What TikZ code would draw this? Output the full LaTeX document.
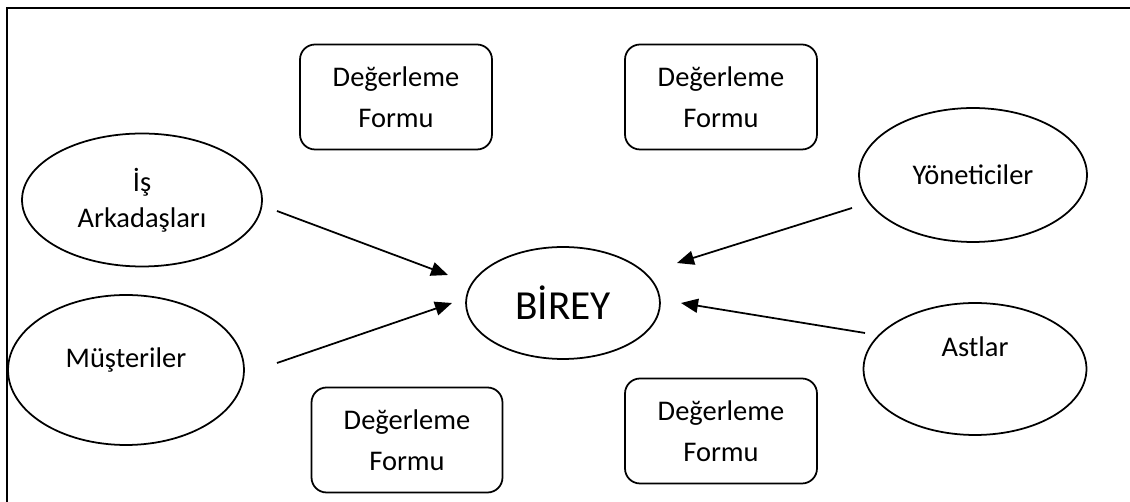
\documentclass[tikz,border=0pt]{standalone}
\usepackage{fontspec}
\setmainfont{Carlito}
\usetikzlibrary{arrows.meta,shapes.geometric}
\tikzset{
  formbox/.style={rectangle,rounded corners=0.3cm,draw,line width=1pt,
                  minimum width=3.84cm,minimum height=2.1cm,align=center,
                  inner sep=0pt,font=\fontsize{16.2}{23.2}\selectfont},
  oval/.style={ellipse,draw,line width=1pt,inner sep=0pt,align=center,
               font=\fontsize{16.2}{20.4}\selectfont},
  ovaltext/.style={font=\fontsize{16.2}{20.4}\selectfont,inner sep=0pt},
  arrow/.style={-{Triangle[length=0.34cm,width=0.28cm]},line width=1pt},
}
\begin{document}
\begin{tikzpicture}[x=0.02cm,y=-0.02cm]
  \useasboundingbox (0,0) rectangle (1130,502);
  % frame
  \draw[line width=1.2pt] (7,502) -- (7,8) -- (1130,8);

  % forms
  \node[formbox] (form1) at (396,97) {Değerleme\\Formu};
  \node[formbox] (form2) at (721,97) {Değerleme\\Formu};
  \node[formbox,minimum width=3.82cm] (form3) at (407,440) {Değerleme\\Formu};
  \node[formbox] (form4) at (721,431) {Değerleme\\Formu};

  % people
  \node[oval,minimum width=4.8cm,minimum height=2.66cm] (isark) at (142,200)
      {İş\\Arkadaşları};
  \node[oval,minimum width=4.72cm,minimum height=3cm,
        label={[ovaltext,yshift=0.2cm]center:Müşteriler}] (musteri) at (126,370) {};
  \node[oval,minimum width=3.88cm,minimum height=2.24cm,
        font=\fontsize{23.5}{28}\selectfont] (birey) at (563,303) {BİREY};
  \node[oval,minimum width=4.56cm,minimum height=2.68cm] (yonet) at (973,175)
      {Yöneticiler};
  \node[oval,minimum width=4.46cm,minimum height=2.64cm,
        label={[ovaltext,yshift=0.44cm]center:Astlar}] (astlar) at (975,369) {};

  % arrow ends
  \coordinate (isark-out) at (277,211);
  \coordinate (musteri-out) at (277,363);
  \coordinate (yonet-out) at (852,208);
  \coordinate (astlar-out) at (865,333);
  \coordinate (birey-in1) at (448,275);
  \coordinate (birey-in2) at (452,303);
  \coordinate (birey-in3) at (677,263);
  \coordinate (birey-in4) at (681,303);

  \draw[arrow] (isark-out) -- (birey-in1);
  \draw[arrow] (musteri-out) -- (birey-in2);
  \draw[arrow] (yonet-out) -- (birey-in3);
  \draw[arrow] (astlar-out) -- (birey-in4);
\end{tikzpicture}
\end{document}
